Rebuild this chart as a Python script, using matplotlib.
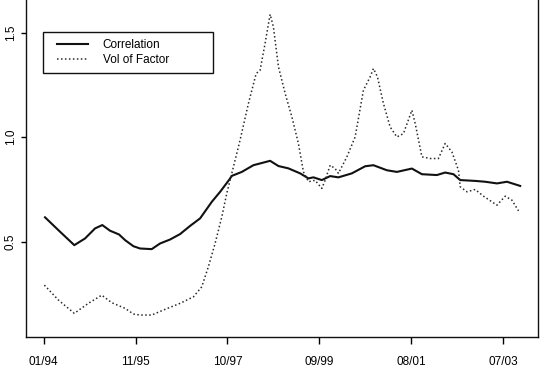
import matplotlib
matplotlib.use("Agg")
import matplotlib.pyplot as plt
from matplotlib.patches import Rectangle

plt.rcParams['font.family'] = ['Liberation Sans', 'DejaVu Sans']

# weekly index (0 = 01/94)
corr_week = [1.4, 17.8, 33.3, 45.0, 55.9, 63.8, 72.2, 82.0, 88.6, 97.6, 104.9,
             117.6, 126.7, 137.6, 148.5, 159.4, 170.3, 183.0, 192.1, 202.2,
             204.8, 215.7, 228.3, 246.5, 255.6, 266.4, 279.2, 288.2, 293.7,
             302.8, 311.9, 320.9, 335.5, 350.0, 359.0, 373.6, 384.5, 400.9,
             411.8, 428.1, 437.1, 446.2, 453.5, 469.8, 480.7, 493.5, 504.4,
             518.8]
corr_val = [0.617, 0.548, 0.484, 0.516, 0.564, 0.580, 0.553, 0.535, 0.508,
            0.479, 0.468, 0.465, 0.492, 0.511, 0.537, 0.576, 0.612, 0.691,
            0.739, 0.798, 0.815, 0.834, 0.866, 0.887, 0.862, 0.851, 0.827,
            0.803, 0.808, 0.795, 0.814, 0.808, 0.827, 0.861, 0.866, 0.842,
            0.834, 0.850, 0.823, 0.819, 0.831, 0.823, 0.795, 0.791, 0.787,
            0.779, 0.787, 0.767]

vol_week = [0.7, 15.9, 33.3, 48.6, 63.2, 74.1, 88.6, 97.6, 104.9, 117.6, 130.3,
            148.5, 163.0, 172.1, 179.3, 186.6, 193.9, 199.3, 204.8, 213.8,
            222.9, 231.3, 235.6, 241.0, 246.5, 250.1, 255.6, 262.9, 270.2,
            277.3, 282.8, 288.3, 295.5, 302.8, 306.4, 311.9, 317.3, 320.9,
            330.1, 339.1, 348.1, 355.4, 359.0, 363.4, 369.9, 377.2, 384.5,
            391.7, 400.9, 404.5, 411.8, 420.8, 429.8, 437.1, 444.4, 451.6,
            453.5, 460.8, 469.8, 478.9, 493.5, 502.5, 509.8, 517.0]
vol_val = [0.293, 0.222, 0.158, 0.206, 0.245, 0.209, 0.182, 0.155, 0.150,
           0.150, 0.174, 0.206, 0.237, 0.285, 0.381, 0.492, 0.619, 0.731,
           0.827, 0.986, 1.161, 1.304, 1.320, 1.447, 1.587, 1.527, 1.336,
           1.209, 1.097, 0.970, 0.834, 0.787, 0.794, 0.755, 0.794, 0.866,
           0.850, 0.827, 0.906, 1.001, 1.224, 1.288, 1.328, 1.288, 1.161,
           1.049, 1.001, 1.017, 1.129, 1.065, 0.906, 0.898, 0.898, 0.970,
           0.930, 0.842, 0.763, 0.739, 0.750, 0.718, 0.675, 0.718, 0.699,
           0.648]

tick_pos = [0, 100, 200, 300, 400, 500]
tick_labels = ['01/94', '11/95', '10/97', '09/99', '08/01', '07/03']

fig = plt.figure(figsize=(5.4, 3.67), dpi=100)
ax = fig.add_axes([0.0478, 0.0817, 0.949, 0.926])

ax.plot(corr_week, corr_val, color='#111111', lw=1.5, solid_joinstyle='round',
        label='Correlation')
ax.plot(vol_week, vol_val, color='#2a2a2a', lw=1.1, linestyle=(0, (1, 1.6)),
        label='Vol of Factor')

ax.set_xlim(-19.5, 538.5)
ax.set_ylim(0.045, 1.669)
ax.set_xticks(tick_pos)
ax.set_xticklabels(tick_labels)
ax.set_yticks([0.5, 1.0, 1.5])
ax.set_yticklabels(['0.5', '1.0', '1.5'], rotation=90, va='center')

ax.tick_params(axis='x', length=5, width=1, pad=8.5, labelsize=8.5)
ax.tick_params(axis='y', length=3.6, width=1, pad=3.0, labelsize=8.5)
for s in ax.spines.values():
    s.set_linewidth(1.0)
    s.set_color('#111111')

# legend box drawn like R's legend()
ax.add_patch(Rectangle((0.0336, 0.776), 0.332, 0.121, transform=ax.transAxes,
                       fill=False, lw=1.0, edgecolor='#111111', zorder=5))
ax.legend(loc='upper left', bbox_to_anchor=(0.0609, 0.878), frameon=False,
          borderpad=0, borderaxespad=0, fontsize=8.5, handlelength=2.63,
          handletextpad=1.25, labelspacing=0.3)

fig.savefig('out.png', dpi=100)
